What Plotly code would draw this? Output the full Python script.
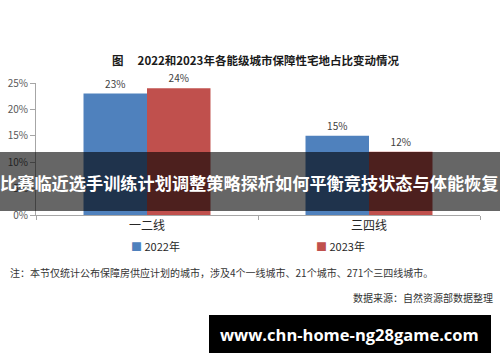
import plotly.graph_objects as go

categories = ["一二线", "三四线"]
series_names = ["2022年", "2023年"]
values_2022 = [23, 15]
values_2023 = [24, 12]
y_ticks = [0, 5, 10, 15, 20, 25]
y_tick_labels = ["0%", "5%", "10%", "15%", "20%", "25%"]

title_text = "图\u3000 2022和2023年各能级城市保障性宅地占比变动情况"
note_text = "注：本节仅统计公布保障房供应计划的城市，涉及4个一线城市、21个城市、271个三四线城市。"
source_text = "数据来源：自然资源部数据整理"
banner_text = "比赛临近选手训练计划调整策略探析如何平衡竞技状态与体能恢复"
url_text = "www.chn-home-ng28game.com"

colors = ["#4F81BD", "#C0504D"]
CJK = "Noto Sans CJK SC"

W, H = 500, 362
L, R, T, B = 36, 20, 83, 147
PW, PH = W - L - R, H - T - B


def px(x):
    return (x - L) / PW


def py(y):
    return (H - B - y) / PH


fig = go.Figure()
for name, vals, col in zip(series_names, [values_2022, values_2023], colors):
    fig.add_trace(go.Bar(
        x=categories, y=vals, name=name,
        marker=dict(color=col, line=dict(width=0)),
        text=[f"{v}%" for v in vals], textposition="outside",
        textfont=dict(size=10, color="#404040", family=CJK),
        cliponaxis=False,
    ))

fig.update_layout(
    width=W, height=H,
    margin=dict(l=L, r=R, t=T, b=B, autoexpand=False),
    paper_bgcolor="white", plot_bgcolor="white",
    barmode="group", bargap=0.428, bargroupgap=0,
    showlegend=False,
    font=dict(family=CJK, color="#404040"),
    xaxis=dict(
        automargin=False,
        showgrid=False, showline=True, linecolor="#A6A6A6", linewidth=1,
        ticks="outside", tickson="boundaries", ticklen=4, tickcolor="#A6A6A6",
        tickfont=dict(size=12, color="#262626", family=CJK),
    ),
    yaxis=dict(
        automargin=False,
        range=[0, 25], tickvals=y_ticks, ticktext=y_tick_labels,
        showgrid=False, showline=True, linecolor="#A6A6A6", linewidth=1,
        ticks="outside", ticklen=5, tickcolor="#A6A6A6",
        tickfont=dict(size=10, color="#595959", family=CJK),
        zeroline=False,
    ),
)

ann = []
# title
ann.append(dict(text=f"<b>{title_text}</b>", x=px(255), y=py(60), xref="paper", yref="paper",
                showarrow=False, xanchor="center", yanchor="middle",
                font=dict(size=11.5, color="#1a1a1a", family=CJK)))
# legend
leg_x = [131, 316]
for name, col, lx in zip(series_names, colors, leg_x):
    ann.append(dict(text=f"<span style='color:{col}'>■</span> {name}", x=px(lx - 2), y=py(246),
                    xref="paper", yref="paper", showarrow=False, xanchor="left", yanchor="middle",
                    font=dict(size=11, color="#262626", family=CJK)))
# note
ann.append(dict(text=note_text, x=px(8), y=py(272), xref="paper", yref="paper",
                showarrow=False, xanchor="left", yanchor="middle",
                font=dict(size=10, color="#333333", family=CJK)))
# source
ann.append(dict(text=source_text, x=px(495), y=py(297), xref="paper", yref="paper",
                showarrow=False, xanchor="right", yanchor="middle",
                font=dict(size=10, color="#333333", family=CJK)))
# banner text
ann.append(dict(text=f"<b>{banner_text}</b>", x=px(249), y=py(182), xref="paper", yref="paper",
                showarrow=False, xanchor="center", yanchor="middle",
                font=dict(size=17.2, color="white", family=CJK)))
# url text
ann.append(dict(text=f"<b>{url_text}</b>", x=px(349), y=py(334), xref="paper", yref="paper",
                showarrow=False, xanchor="center", yanchor="middle",
                font=dict(size=16.5, color="white", family="Open Sans")))
fig.update_layout(annotations=ann)

fig.add_shape(type="rect", xref="paper", yref="paper",
              x0=px(0), x1=px(500), y0=py(211), y1=py(152),
              fillcolor="rgba(0,0,0,0.6)", line=dict(width=0), layer="above")
fig.add_shape(type="rect", xref="paper", yref="paper",
              x0=px(209), x1=px(491), y0=py(353), y1=py(315),
              fillcolor="black", line=dict(width=0), layer="above")

fig.write_html("out.html", config={"displayModeBar": False},
               post_script="document.body.style.margin='0';document.body.style.overflow='hidden';")
